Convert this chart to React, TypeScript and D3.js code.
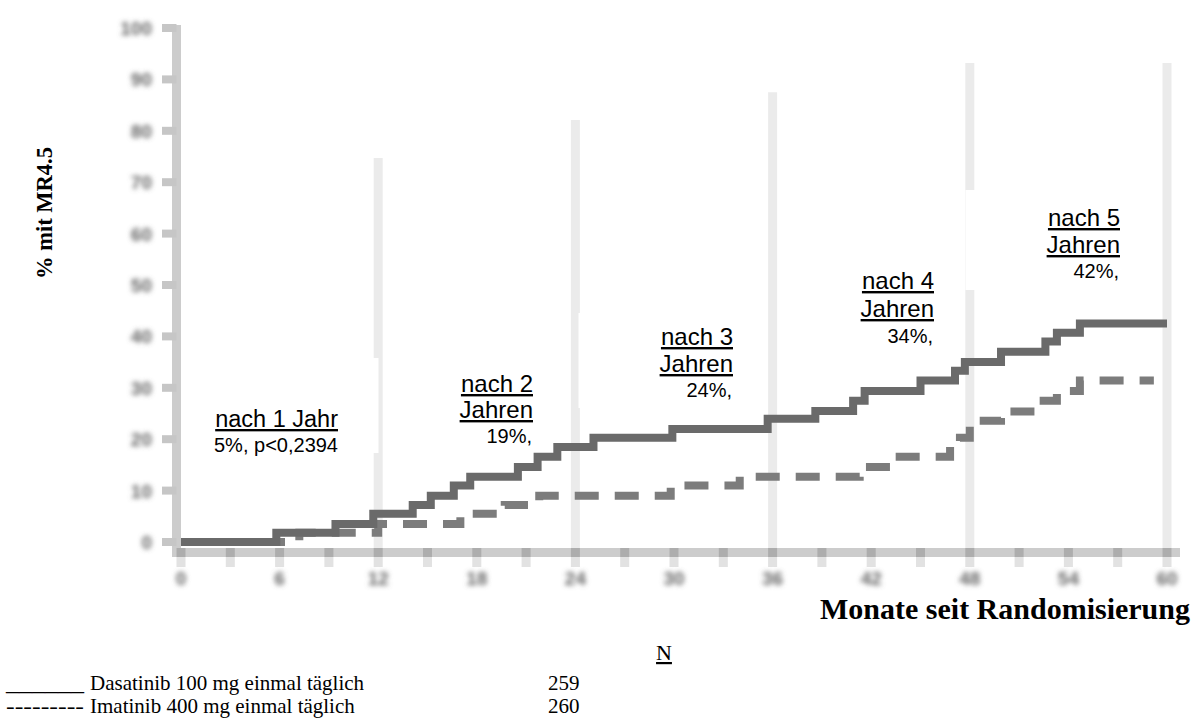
import React from "react";
import * as d3 from "d3";

// ---------- data ----------
const yTicks = [0, 10, 20, 30, 40, 50, 60, 70, 80, 90, 100];
const xTicks = [0, 6, 12, 18, 24, 30, 36, 42, 48, 54, 60];
const xMinorTicks = [3, 9, 15, 21, 27, 33, 39, 45, 51, 57];
const yearMonths = [12, 24, 36, 48, 60];
const yearLineTopPct = [74.7, 82.1, 87.5, 93.2, 93.2];

const dasatinibMonths = [0, 5.8, 9.4, 11.7, 14.1, 15.2, 16.6, 17.6, 20.5, 21.7, 22.9, 25.1, 29.9, 35.7, 38.6, 40.9, 41.6, 45.0, 47.1, 47.7, 49.9, 52.6, 53.3, 54.7, 60];
const dasatinibPct = [0, 1.8, 3.5, 5.5, 7.2, 9.0, 11.0, 12.7, 14.6, 16.6, 18.5, 20.3, 22.0, 24.0, 25.5, 27.5, 29.4, 31.4, 33.3, 35.0, 37.0, 39.0, 40.7, 42.5, 42.5];

const imatinibMonths = [0, 7.2, 12.0, 17.0, 19.7, 21.8, 29.8, 34.0, 41.3, 43.2, 46.8, 47.4, 48.0, 49.9, 52.1, 53.3, 54.7, 59.2];
const imatinibPct = [0, 1.8, 3.5, 5.5, 7.2, 9.0, 11.0, 12.7, 14.6, 16.6, 18.5, 20.3, 23.6, 25.4, 27.5, 29.4, 31.4, 31.4];

const yearHeadings = [["nach 1 Jahr"], ["nach 2", "Jahren"], ["nach 3", "Jahren"], ["nach 4", "Jahren"], ["nach 5", "Jahren"]];
const yearPctText = ["5%, p<0,2394", "19%,", "24%,", "34%,", "42%,"];

const seriesNames = ["Dasatinib 100 mg einmal täglich", "Imatinib 400 mg einmal täglich"];
const seriesMarkers = ["______", "---------"];
const seriesN = ["259", "260"];

const yAxisTitle = "% mit MR4.5";
const xAxisTitle = "Monate seit Randomisierung";

// ---------- layout ----------
const W = 1195;
const H = 722;
const x = d3.scaleLinear().domain([0, 60]).range([181, 1167]);
const y = d3.scaleLinear().domain([0, 100]).range([542, 28]);

const annLayout = [
  { right: 338, base: [427], pctBase: 452 },
  { right: 533, base: [392, 418], pctBase: 443 },
  { right: 733, base: [345, 372], pctBase: 397 },
  { right: 934, base: [289, 317], pctBase: 343 },
  { right: 1120, base: [226, 253], pctBase: 278 },
];

const whiteBoxes = [
  { x: 200, y: 358, w: 178.5, h: 95 },
  { x: 578.5, y: 313, w: 160, h: 95 },
  { x: 965.5, y: 190, w: 160, h: 100 },
];

export default function App() {
  const lineGen = d3
    .line<[number, number]>()
    .x((d) => x(d[0]))
    .y((d) => y(d[1]))
    .curve(d3.curveStepAfter);

  const dasData: [number, number][] = dasatinibMonths.map((m, i) => [m, dasatinibPct[i]]);
  const imaData: [number, number][] = imatinibMonths.map((m, i) => [m, imatinibPct[i]]);

  const axisY = y(0) + 10.5; // centre of x-axis bar
  const axisX = x(0) - 4.5; // centre of y-axis bar

  const sans = "'Liberation Sans', Arial, sans-serif";
  const serif = "'Liberation Serif', 'Times New Roman', serif";

  const legendBase = 690;
  const legendStep = 23;

  return (
    <svg
      width={W}
      height={H}
      style={{ position: "absolute", left: 0, top: 0, background: "#fff" }}
    >
      <defs>
        <filter id="blurTick" x="-60%" y="-60%" width="220%" height="220%">
          <feGaussianBlur stdDeviation="2.8" />
        </filter>
      </defs>

      {/* year reference lines */}
      {yearMonths.map((m, i) => (
        <line
          key={"yl" + m}
          x1={x(m)}
          x2={x(m)}
          y1={y(yearLineTopPct[i])}
          y2={axisY - 4}
          stroke="#ebebeb"
          strokeWidth={9}
        />
      ))}

      {/* label boxes */}
      {whiteBoxes.map((b, i) => (
        <rect key={"wb" + i} x={b.x} y={b.y} width={b.w} height={b.h} fill="#fff" />
      ))}

      {/* y axis */}
      <line x1={axisX} x2={axisX} y1={25} y2={axisY + 4.5} stroke="#cccccc" strokeWidth={9} />
      {yTicks.map((v) => (
        <line
          key={"yt" + v}
          x1={162}
          x2={axisX}
          y1={y(v)}
          y2={y(v)}
          stroke="#c6c6c6"
          strokeWidth={8}
        />
      ))}
      {yTicks.map((v) => (
        <text
          key={"ytl" + v}
          x={152}
          y={y(v) + 7}
          textAnchor="end"
          fontFamily={sans}
          fontWeight="bold"
          fontSize={19}
          fill="#666"
          filter="url(#blurTick)"
        >
          {v}
        </text>
      ))}

      {/* x axis */}
      <line x1={172} x2={1180} y1={axisY} y2={axisY} stroke="#cccccc" strokeWidth={9} />
      {[...xTicks, ...xMinorTicks].map((m) => (
        <g key={"xt" + m}>
          <rect x={x(m) - 4.5} y={axisY - 4.5} width={9} height={9} fill="#adadad" />
          <rect x={x(m) - 4.5} y={axisY + 4.5} width={9} height={10} fill="#e2e2e2" />
        </g>
      ))}
      {xTicks.map((m) => (
        <text
          key={"xtl" + m}
          x={x(m)}
          y={585}
          textAnchor="middle"
          fontFamily={sans}
          fontWeight="bold"
          fontSize={19}
          fill="#666"
          filter="url(#blurTick)"
        >
          {m}
        </text>
      ))}

      {/* series */}
      <path
        d={lineGen(imaData) || ""}
        fill="none"
        stroke="#7c7c7c"
        strokeWidth={8}
        strokeDasharray="24 16"
      />
      <path d={lineGen(dasData) || ""} fill="none" stroke="#6a6a6a" strokeWidth={8} />

      {/* annotations */}
      {yearHeadings.map((lines, i) => (
        <g key={"ann" + i}>
          {lines.map((t, j) => (
            <text
              key={j}
              x={annLayout[i].right}
              y={annLayout[i].base[j]}
              textAnchor="end"
              fontFamily={sans}
              fontSize={i === 0 ? 23.5 : 24}
              fill="#000"
              style={{ textDecoration: "underline" }}
            >
              {t}
            </text>
          ))}
          <text
            x={annLayout[i].right - (i === 0 ? 0 : 1)}
            y={annLayout[i].pctBase}
            textAnchor="end"
            fontFamily={sans}
            fontSize={20}
            fill="#000"
          >
            {yearPctText[i]}
          </text>
        </g>
      ))}

      {/* axis titles */}
      <text
        transform="translate(52,213) rotate(-90)"
        textAnchor="middle"
        fontFamily={serif}
        fontWeight="bold"
        fontSize={22.5}
        fill="#000"
      >
        {yAxisTitle}
      </text>
      <text
        x={1190}
        y={619}
        textAnchor="end"
        fontFamily={serif}
        fontWeight="bold"
        fontSize={30}
        fill="#000"
      >
        {xAxisTitle}
      </text>

      {/* legend */}
      <text
        x={664}
        y={660}
        textAnchor="middle"
        fontFamily={serif}
        fontSize={22}
        fill="#000"
        style={{ textDecoration: "underline" }}
      >
        N
      </text>
      {seriesNames.map((name, i) => (
        <g key={"lg" + i}>
          <text
            x={6}
            y={legendBase + i * legendStep}
            fontFamily={serif}
            fontSize={21}
            fill="#000"
            textLength={78}
            lengthAdjust="spacingAndGlyphs"
          >
            {seriesMarkers[i]}
          </text>
          <text x={90} y={legendBase + i * legendStep} fontFamily={serif} fontSize={21} fill="#000">
            {name}
          </text>
          <text x={548} y={legendBase + i * legendStep} fontFamily={serif} fontSize={21} fill="#000">
            {seriesN[i]}
          </text>
        </g>
      ))}
    </svg>
  );
}
